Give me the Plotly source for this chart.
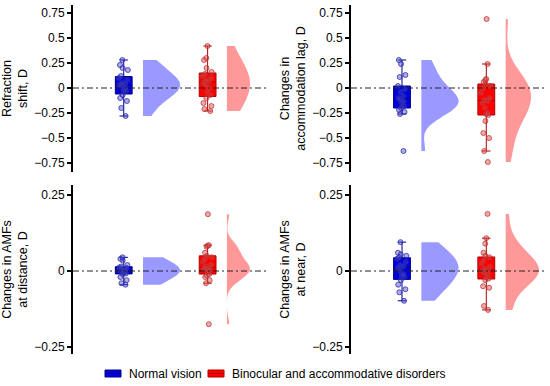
import plotly.graph_objects as go
from plotly.subplots import make_subplots

# ---------------- data ----------------
groups = ["Normal vision", "Binocular and accommodative disorders"]

refr_normal = [0.28, 0.23, 0.20, 0.18, 0.12, 0.10, 0.08, 0.05, 0.04, 0.03, 0.02, 0.0,
               -0.02, -0.03, -0.07, -0.10, -0.13, -0.20, -0.28]
refr_disorder = [0.42, 0.30, 0.28, 0.20, 0.16, 0.14, 0.12, 0.10, 0.08, 0.07, 0.05, 0.03,
                 0.0, -0.04, -0.07, -0.10, -0.15, -0.18, -0.21, -0.23]

lag_normal = [0.28, 0.24, 0.13, 0.11, 0.02, -0.01, -0.04, -0.08, -0.10, -0.12, -0.13,
              -0.15, -0.18, -0.20, -0.22, -0.24, -0.26, -0.63]
lag_disorder = [0.69, 0.24, 0.09, 0.08, 0.06, 0.04, 0.02, 0.0, -0.05, -0.10, -0.12, -0.13,
                -0.15, -0.20, -0.25, -0.26, -0.27, -0.33, -0.45, -0.50, -0.63, -0.74]

amf_dist_normal = [0.045, 0.04, 0.035, 0.02, 0.015, 0.012, 0.01, 0.008, 0.005, 0.002, 0.0,
                   -0.002, -0.005, -0.008, -0.01, -0.02, -0.03, -0.04, -0.045]
amf_dist_disorder = [0.187, 0.085, 0.083, 0.08, 0.06, 0.05, 0.045, 0.04, 0.03, 0.02, 0.015,
                     0.01, 0.008, 0.005, 0.003, 0.0, -0.01, -0.015, -0.02, -0.03, -0.04, -0.175]

amf_near_normal = [0.095, 0.06, 0.055, 0.05, 0.045, 0.04, 0.03, 0.02, 0.015, 0.01, 0.0,
                   -0.01, -0.015, -0.02, -0.03, -0.045, -0.06, -0.07, -0.098]
amf_near_disorder = [0.188, 0.108, 0.09, 0.06, 0.05, 0.045, 0.035, 0.025, 0.015, 0.008, 0.003,
                     0.0, -0.005, -0.01, -0.02, -0.025, -0.03, -0.05, -0.055, -0.115, -0.128]

panel_titles = ["Refraction<br>shift, D", "Changes in<br>accommodation lag, D",
                "Changes in AMFs<br>at distance, D", "Changes in AMFs<br>at near, D"]

top_tickvals = [-0.75, -0.5, -0.25, 0, 0.25, 0.5, 0.75]
top_ticktext = ["\u22120.75", "\u22120.5", "\u22120.25", "0", "0.25", "0.5", "0.75"]
bot_tickvals = [-0.25, 0, 0.25]
bot_ticktext = ["\u22120.25", "0", "0.25"]

# ---------------- styling ----------------
FONT = "Liberation Sans, Arial, sans-serif"
box_fill = ["#0000DD", "#FF0000"]
box_line = ["#00008B", "#B00000"]
pt_fill = ["rgba(70,70,200,0.45)", "rgba(215,70,70,0.45)"]
pt_line = ["rgba(40,40,170,0.75)", "rgba(190,50,50,0.75)"]
vio_fill = ["#9999FF", "#FF9999"]

box_pos = [1, 2]
vio_pos = [1.23, 2.23]

panels = [
    dict(row=1, col=1, data=[refr_normal, refr_disorder], vw=[0.88, 0.55], bw=[0.1, 0.18]),
    dict(row=1, col=2, data=[lag_normal, lag_disorder], vw=[0.88, 0.6], bw=[0.11, 0.15]),
    dict(row=2, col=1, data=[amf_dist_normal, amf_dist_disorder], vw=[0.88, 0.55], bw=[0.03, 0.022]),
    dict(row=2, col=2, data=[amf_near_normal, amf_near_disorder], vw=[0.88, 0.79], bw=[0.05, 0.04]),
]

fig = make_subplots(rows=2, cols=2)

for pi, p in enumerate(panels):
    for g in range(2):
        vals = p["data"][g]
        fig.add_trace(go.Violin(
            y=vals, x0=vio_pos[g], side="positive", width=p["vw"][g],
            bandwidth=p["bw"][g], spanmode="hard", points=False,
            box_visible=False, meanline_visible=False,
            fillcolor=vio_fill[g], line=dict(width=0, color=vio_fill[g]),
            opacity=1, showlegend=False, hoverinfo="skip", name=groups[g]),
            row=p["row"], col=p["col"])
    for g in range(2):
        vals = p["data"][g]
        fig.add_trace(go.Box(
            y=vals, x0=box_pos[g], width=0.2, boxpoints="all", jitter=0.7, pointpos=0,
            fillcolor=box_fill[g], line=dict(color=box_line[g], width=1),
            marker=dict(color=pt_fill[g], size=5, line=dict(color=pt_line[g], width=1)),
            name=groups[g], showlegend=False),
            row=p["row"], col=p["col"])

# layout / axes
W, H = 550, 386
ml, mr, mt, mb = 73, 3, 5, 32
pw = W - ml - mr
ph = H - mt - mb
xdom = [[0, 195 / pw], [(351 - ml) / pw, 1.0]]
ydom = [[1 - 167 / ph, 1.0], [0, 169 / ph]]

for p, title in zip(panels, panel_titles):
    r, c = p["row"], p["col"]
    top = (r == 1)
    fig.update_xaxes(domain=xdom[c - 1], range=[0.395, 2.72], visible=False, row=r, col=c)
    fig.update_yaxes(
        domain=ydom[r - 1],
        range=[-0.84, 0.83] if top else [-0.273, 0.283],
        tickvals=top_tickvals if top else bot_tickvals,
        ticktext=top_ticktext if top else bot_ticktext,
        showgrid=False, zeroline=False, showline=True, linecolor="black", linewidth=2,
        ticks="outside", ticklen=4, tickwidth=1.5, tickcolor="black",
        tickfont=dict(family=FONT, size=12, color="black"),
        title=dict(text=title, font=dict(family=FONT, size=12.5, color="black"), standoff=4),
        automargin=False, row=r, col=c)

# zero reference lines
axes_ids = [("x", "y"), ("x2", "y2"), ("x3", "y3"), ("x4", "y4")]
for xa, ya in axes_ids:
    fig.add_shape(type="line", xref=f"{xa} domain", yref=ya, x0=0, x1=1, y0=0, y1=0,
                  line=dict(color="#222222", width=1, dash="6px,3px,2px,3px"), layer="above")

# manual legend (pixel positions converted to paper coordinates)
def px_x(v):
    return (v - ml) / pw

def px_y(v):
    return (H - mb - v) / ph

legend_items = [(105, 127), (208, 230)]
for g, (icon_x, text_x) in enumerate(legend_items):
    fig.add_shape(type="rect", xref="paper", yref="paper",
                  x0=px_x(icon_x), x1=px_x(icon_x + 16), y0=px_y(377), y1=px_y(370),
                  fillcolor=box_fill[g], line=dict(color=box_line[g], width=1), layer="above")
    fig.add_shape(type="line", xref="paper", yref="paper",
                  x0=px_x(icon_x), x1=px_x(icon_x + 16), y0=px_y(373.5), y1=px_y(373.5),
                  line=dict(color=box_line[g], width=1), layer="above")
    fig.add_annotation(text=groups[g], xref="paper", yref="paper",
                       x=px_x(text_x), y=px_y(373.5), xanchor="left", yanchor="middle",
                       showarrow=False, font=dict(family=FONT, size=12, color="black"))

fig.update_layout(
    width=W, height=H,
    margin=dict(l=ml, r=mr, t=mt, b=mb),
    paper_bgcolor="white", plot_bgcolor="white",
    boxmode="overlay", violinmode="overlay",
    font=dict(family=FONT, size=12, color="black"),
    showlegend=False,
)

fig.write_html("out.html",
               config={"displayModeBar": False},
               post_script="document.body.style.margin='0';document.body.style.overflow='hidden';")
